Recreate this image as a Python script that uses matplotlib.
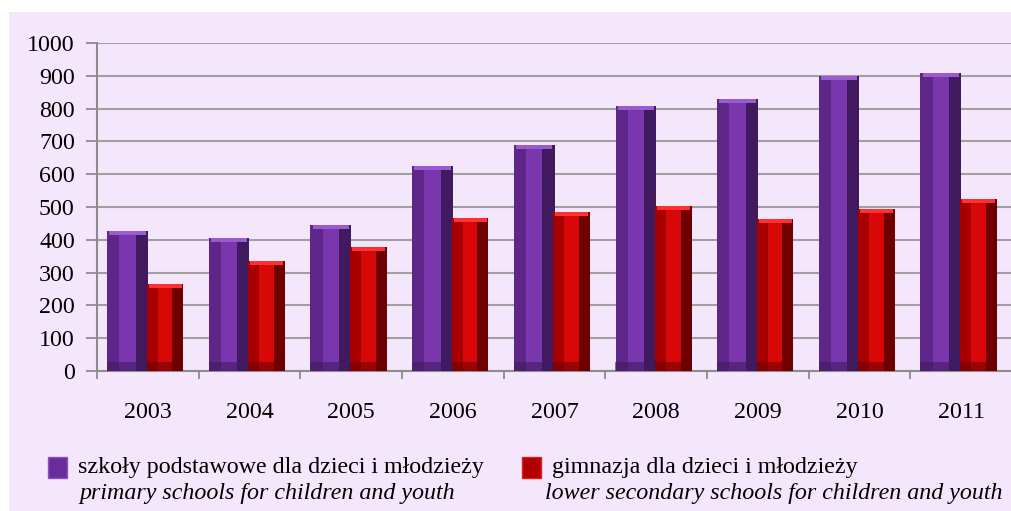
import matplotlib.pyplot as plt
import numpy as np
from matplotlib.patches import Rectangle

years = ['2003', '2004', '2005', '2006', '2007', '2008', '2009', '2010', '2011']
primary = [427, 405, 445, 625, 690, 808, 829, 899, 908]
lower_secondary = [265, 335, 378, 465, 485, 503, 463, 494, 524]

label_pl_1 = 'szkoły podstawowe dla dzieci i młodzieży'
label_en_1 = 'primary schools for children and youth'
label_pl_2 = 'gimnazja dla dzieci i młodzieży'
label_en_2 = 'lower secondary schools for children and youth'

bg = '#F4E7FC'
W, H = 1012, 511
plt.rcParams['font.family'] = ['Liberation Serif', 'DejaVu Serif']

fig = plt.figure(figsize=(W / 100, H / 100), dpi=100, facecolor='white')
# lavender chart area, white strip on the left and top
fig.patches.append(Rectangle((9 / W, 0), 1, 1 - 12 / H, transform=fig.transFigure,
                             facecolor=bg, edgecolor='none', zorder=-10, figure=fig))
ax = fig.add_axes([97 / W, 1 - 371 / H, 1 - 97 / W, 328 / H], facecolor=bg)

x = np.arange(len(years))


def bevel_bar(xc, vals, w, light, mid, dark, top):
    # crude 3d look: left / centre / right stripes + cap
    vals = np.array(vals)
    ax.bar(xc - w * 0.35, vals, w * 0.3, color=mid, zorder=3, linewidth=0)
    ax.bar(xc, vals, w * 0.4, color=light, zorder=3, linewidth=0)
    ax.bar(xc + w * 0.35, vals, w * 0.3, color=dark, zorder=3, linewidth=0)
    ax.bar(xc, vals * 0.0 + 12, w * 0.9, bottom=vals - 12, color=top, zorder=4, linewidth=0)
    ax.bar(xc, 28, w, bottom=0, color=dark, alpha=0.6, zorder=4, linewidth=0)


bevel_bar(x - 0.2, primary, 0.40, '#7A36AC', '#5E2688', '#3F1A5E', '#9A5BD0')
bevel_bar(x + 0.17, lower_secondary, 0.36, '#D80808', '#A80000', '#6E0000', '#FF3030')

ax.set_xlim(-0.5, len(years) - 0.5)
ax.set_ylim(0, 1000)
ax.set_yticks(np.arange(0, 1001, 100))
ax.set_xticks(x)
ax.set_xticklabels(years)
ax.set_xticks(np.arange(-0.5, len(years), 1), minor=True)
ax.tick_params(axis='x', which='major', length=0, pad=22, labelsize=17.3)
ax.tick_params(axis='x', which='minor', length=6, color='#8C8C8C', width=1.3)
ax.tick_params(axis='y', length=8, color='#8C8C8C', width=1.3, labelsize=17.3, pad=8)
ax.yaxis.grid(True, color='#A0A0A0', linewidth=1.5, zorder=0)
ax.set_axisbelow(True)
for s in ['top', 'right']:
    ax.spines[s].set_visible(False)
for s in ['left', 'bottom']:
    ax.spines[s].set_color('#8C8C8C')
    ax.spines[s].set_linewidth(1.5)

# legend by hand
fig.patches.append(Rectangle((48 / W, 1 - 478 / H), 19 / W, 21 / H,
                             transform=fig.transFigure, facecolor='#6A2C9A', edgecolor='#9050C8', figure=fig))
fig.patches.append(Rectangle((522 / W, 1 - 478 / H), 19 / W, 21 / H,
                             transform=fig.transFigure, facecolor='#B00000', edgecolor='#E02020', figure=fig))
fig.text(78 / W, 1 - 467 / H, label_pl_1, fontsize=17.3, va='center')
fig.text(79 / W, 1 - 494 / H, label_en_1, fontsize=17.3, va='center', style='italic')
fig.text(552 / W, 1 - 467 / H, label_pl_2, fontsize=17.3, va='center')
fig.text(545 / W, 1 - 494 / H, label_en_2, fontsize=17.3, va='center', style='italic')

fig.savefig('out.png', dpi=100, facecolor='white')
